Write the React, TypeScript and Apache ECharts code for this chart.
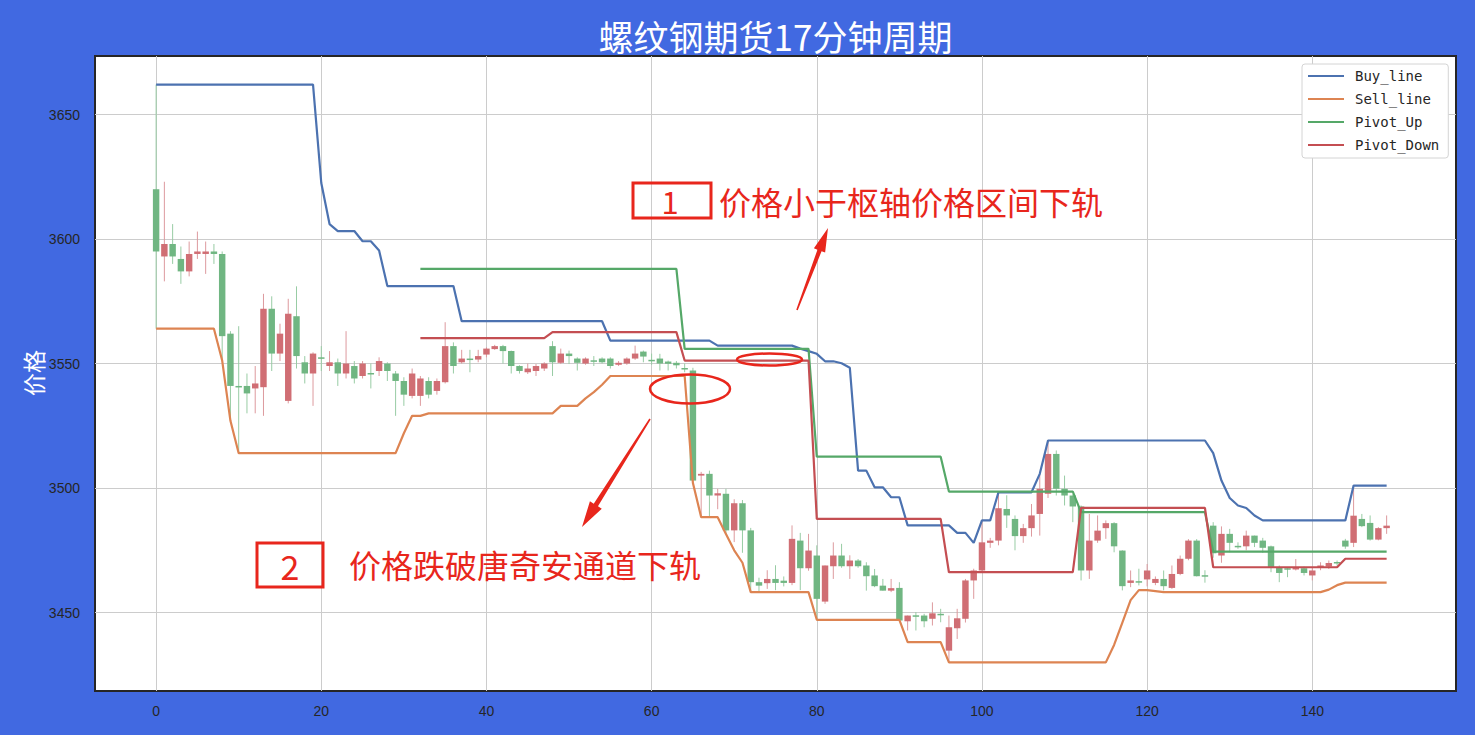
import React, { useEffect, useRef } from 'react';
import * as echarts from 'echarts';

// [open, close, low, high] per bar, index = bar number
const candles: number[][] = [
  // 0-9
  [3620, 3595, 3564, 3662], [3593, 3598, 3583, 3623], [3598, 3593, 3590, 3606], [3592, 3587, 3582, 3597], [3587, 3594, 3585, 3599],
  [3594, 3595, 3592, 3603], [3594, 3595, 3586, 3599], [3595, 3594, 3590, 3598], [3594, 3561, 3551, 3595], [3562, 3541, 3527, 3563],
  // 10-19
  [3541, 3540.5, 3514, 3565], [3541, 3538, 3530, 3546], [3540, 3542, 3530, 3549], [3540.5, 3572, 3529, 3578], [3572, 3554, 3547, 3577],
  [3554, 3562, 3551, 3566], [3535, 3570, 3534, 3576], [3569, 3553, 3548, 3581], [3550.5, 3546, 3542, 3553], [3546, 3554, 3533, 3554.5],
  // 20-29
  [3552.5, 3552, 3547, 3557], [3549, 3550.5, 3547, 3555], [3550.5, 3546, 3541, 3552], [3546, 3550, 3544, 3563], [3549, 3544, 3542, 3551],
  [3545, 3550, 3544, 3551], [3546.2, 3546, 3540, 3550], [3547, 3551, 3545, 3552.5], [3550, 3547, 3543, 3550.5], [3546, 3543, 3529, 3547],
  // 30-39
  [3543, 3537.5, 3533, 3544.5], [3537, 3546, 3536, 3548], [3537, 3544, 3533, 3545], [3543, 3537.5, 3536, 3544.5], [3539, 3543, 3537.5, 3544],
  [3542.5, 3557, 3542, 3566.6], [3557, 3549, 3546, 3558.5], [3550.5, 3552, 3550, 3555.5], [3552, 3551.8, 3546.5, 3555.5], [3551.6, 3553, 3550.5, 3555.5],
  // 40-49
  [3553.6, 3556, 3552.5, 3556.5], [3555.8, 3557, 3555.5, 3557.5], [3557, 3555, 3550, 3557.5], [3555, 3549, 3546, 3555.2], [3549, 3547, 3546, 3549.3],
  [3546.5, 3548, 3545.8, 3550], [3547, 3549, 3545, 3549.8], [3548, 3550, 3547, 3550.5], [3557, 3550.5, 3545, 3559], [3550.3, 3554, 3549.8, 3556],
  // 50-59
  [3554, 3553, 3549.8, 3555.2], [3552, 3550.3, 3547.2, 3552.5], [3550, 3552, 3549.5, 3552.5], [3551.3, 3551.1, 3549, 3553], [3552, 3550.5, 3550, 3552.5],
  [3552, 3549, 3548, 3552.5], [3549.5, 3550.3, 3549, 3551], [3550, 3552, 3549.5, 3552.5], [3552, 3554, 3551.5, 3557.2], [3554.8, 3552.8, 3550.5, 3555.2],
  // 60-69
  [3551.5, 3551.2, 3549.5, 3554], [3552, 3550, 3547.2, 3553.9], [3550.8, 3549.9, 3547.2, 3551.2], [3550.3, 3549.3, 3548, 3551], [3548.2, 3548, 3546.5, 3550],
  [3547.2, 3503, 3503, 3548.3], [3505, 3505.7, 3488.3, 3506.5], [3505.7, 3497, 3488.3, 3507], [3497, 3497.9, 3491.5, 3499.7], [3497.7, 3483, 3481.6, 3499.7],
  // 70-79
  [3483, 3493.9, 3478.3, 3495.5], [3493.9, 3483, 3474, 3495.2], [3483, 3462.2, 3458.2, 3484], [3462.2, 3460.8, 3458.5, 3464], [3461.8, 3463.5, 3459.5, 3467],
  [3463.5, 3461.9, 3459, 3469], [3462.8, 3461.9, 3460.5, 3464.5], [3461.9, 3479.6, 3461, 3485], [3478.9, 3467.8, 3459, 3482], [3467.8, 3474.9, 3466.8, 3481.6],
  // 80-89
  [3472.9, 3455.5, 3447.1, 3477], [3454.4, 3468.9, 3453.5, 3468.9], [3468.6, 3472.9, 3463.5, 3478.2], [3472.9, 3468.6, 3468, 3477.6], [3468.6, 3470.9, 3463.5, 3473],
  [3470.9, 3468.6, 3468, 3471.5], [3468.9, 3464.6, 3458.8, 3470.2], [3464.9, 3460.6, 3460.2, 3467.5], [3460.8, 3458.8, 3458.8, 3463.5], [3458.8, 3459.8, 3458.2, 3463.5],
  // 90-99
  [3459.9, 3446.8, 3446.8, 3462.2], [3446.5, 3448.8, 3442.8, 3448.8], [3448.9, 3448.7, 3442.8, 3450.2], [3448.8, 3446.5, 3444.1, 3449.5], [3447.5, 3449.7, 3444.8, 3454.1],
  [3449.5, 3449.3, 3446.1, 3451.5], [3434.7, 3444.1, 3430, 3448.8], [3443.7, 3447.7, 3439.4, 3451.5], [3447.5, 3462.9, 3446, 3463.5], [3462.9, 3466.9, 3455.5, 3467.6],
  // 100-109
  [3466.9, 3478.2, 3466, 3487], [3478, 3478.9, 3476, 3480], [3478.9, 3491.9, 3477, 3498.3], [3491.6, 3489, 3484, 3497.1], [3487.6, 3480.7, 3475, 3489],
  [3480.7, 3483.9, 3478, 3485.6], [3483.9, 3489, 3480.5, 3493.6], [3489.6, 3499.7, 3480.9, 3505.7], [3497.7, 3513.7, 3496, 3519], [3513.7, 3499.7, 3497, 3515.1],
  // 110-119
  [3499.7, 3497, 3493, 3505], [3497, 3492.6, 3486.3, 3497.5], [3492.6, 3466.9, 3462.9, 3493], [3466.9, 3478.9, 3463.5, 3489.6], [3478.9, 3482.9, 3478, 3489],
  [3483.9, 3485.9, 3479.6, 3487], [3485.9, 3476.6, 3474.2, 3486.3], [3474.9, 3460.6, 3458.9, 3475], [3461.9, 3462.9, 3460.2, 3466.9], [3462.6, 3462.4, 3460.9, 3467.6],
  // 120-129
  [3463.3, 3466.9, 3460.5, 3469.5], [3461.9, 3463.5, 3461, 3464.5], [3463.5, 3460.6, 3458.9, 3466.9], [3459.9, 3465.5, 3459.5, 3468.9], [3465.5, 3471.6, 3465, 3472.9],
  [3471.6, 3478.9, 3471, 3479.5], [3478.9, 3464.6, 3464.5, 3479.5], [3465, 3464.8, 3462, 3467], [3484.9, 3473.8, 3472, 3486.3], [3472.9, 3481.6, 3470, 3484.6],
  // 130-139
  [3481.6, 3478, 3474.2, 3483.6], [3476.8, 3476.5, 3475.6, 3478.2], [3476.6, 3480.9, 3475, 3482.9], [3480.9, 3478, 3476.3, 3480.9], [3478.9, 3476, 3474, 3480],
  [3476.6, 3468.2, 3466.2, 3476.9], [3468.2, 3465.9, 3462.2, 3468.9], [3467.8, 3467.5, 3464.2, 3468.2], [3467.3, 3468.2, 3466.9, 3471.5], [3467.8, 3465.9, 3464.9, 3468.5],
  // 140-149
  [3464.9, 3466.9, 3462.9, 3468.2], [3468.2, 3468.9, 3467, 3470.2], [3468.5, 3469.9, 3467.5, 3470.9], [3470.3, 3470.1, 3468.9, 3470.9], [3478.9, 3476.5, 3475.6, 3479.6],
  [3478, 3488.9, 3476.3, 3501], [3487.6, 3484.7, 3484.3, 3489.6], [3486, 3479.3, 3478.9, 3489], [3479.3, 3483.9, 3479, 3484.3], [3483.9, 3484.9, 3481.6, 3489],
];

const buyLine: number[] = [
  3662, 3662, 3662, 3662, 3662, 3662, 3662, 3662, 3662, 3662,
  3662, 3662, 3662, 3662, 3662, 3662, 3662, 3662, 3662, 3662,
  3622.5, 3606, 3603.2, 3603.2, 3603.2, 3599.1, 3599.1, 3595.4, 3581.1, 3581.1,
  3581.1, 3581.1, 3581.1, 3581.1, 3581.1, 3581.1, 3581.1, 3567, 3567, 3567,
  3567, 3567, 3567, 3567, 3567, 3567, 3567, 3567, 3567, 3567,
  3567, 3567, 3567, 3567, 3567, 3559.2, 3559.2, 3559.2, 3559.2, 3559.2,
  3559.2, 3559.2, 3559.2, 3559.2, 3559.2, 3559.2, 3559.2, 3559.2, 3557.2, 3557.2,
  3557.2, 3557.2, 3557.2, 3557.2, 3557.2, 3557.2, 3557.2, 3557.2, 3556, 3555,
  3553.9, 3550.9, 3550.9, 3550.1, 3548.3, 3507, 3507, 3500.3, 3500.3, 3496.3,
  3496.3, 3485, 3485, 3485, 3485, 3485, 3485, 3482, 3482, 3478,
  3487, 3487, 3498.3, 3498.3, 3498.3, 3498.3, 3498.3, 3505.7, 3519.1, 3519.1,
  3519.1, 3519.1, 3519.1, 3519.1, 3519.1, 3519.1, 3519.1, 3519.1, 3519.1, 3519.1,
  3519.1, 3519.1, 3519.1, 3519.1, 3519.1, 3519.1, 3519.1, 3519.1, 3514, 3503,
  3496, 3493, 3492, 3489, 3487, 3487, 3487, 3487, 3487, 3487,
  3487, 3487, 3487, 3487, 3487, 3501, 3501, 3501, 3501, 3501,
];

const sellLine: number[] = [
  3564, 3564, 3564, 3564, 3564, 3564, 3564, 3564, 3551.2, 3527,
  3514, 3514, 3514, 3514, 3514, 3514, 3514, 3514, 3514, 3514,
  3514, 3514, 3514, 3514, 3514, 3514, 3514, 3514, 3514, 3514,
  3522, 3529, 3529, 3530, 3530, 3530, 3530, 3530, 3530, 3530,
  3530, 3530, 3530, 3530, 3530, 3530, 3530, 3530, 3530, 3533,
  3533, 3533, 3536, 3538.5, 3541.5, 3545, 3545, 3545, 3545, 3545,
  3545, 3545, 3545, 3545, 3545, 3502, 3488.3, 3488.3, 3488.3, 3481.5,
  3475, 3470, 3458.2, 3458.2, 3458.2, 3458.2, 3458.2, 3458.2, 3458.2, 3458.2,
  3447.1, 3447.1, 3447.1, 3447.1, 3447.1, 3447.1, 3447.1, 3447.1, 3447.1, 3447.1,
  3447.1, 3438.1, 3438.1, 3438.1, 3438.1, 3438.1, 3430, 3430, 3430, 3430,
  3430, 3430, 3430, 3430, 3430, 3430, 3430, 3430, 3430, 3430,
  3430, 3430, 3430, 3430, 3430, 3430, 3437, 3446, 3455, 3459,
  3459, 3458.6, 3458.2, 3458.2, 3458.2, 3458.2, 3458.2, 3458.2, 3458.2, 3458.2,
  3458.2, 3458.2, 3458.2, 3458.2, 3458.2, 3458.2, 3458.2, 3458.2, 3458.2, 3458.2,
  3458.2, 3458.2, 3459.2, 3461, 3462, 3462, 3462, 3462, 3462, 3462,
];

const pivotUp: (number | null)[] = [
  null, null, null, null, null, null, null, null, null, null, null, null, null, null, null, null,
  null, null, null, null, null, null, null, null, null, null, null, null, null, null, null, null,
  3588, 3588, 3588, 3588, 3588, 3588, 3588, 3588, 3588, 3588, 3588, 3588, 3588, 3588, 3588, 3588,
  3588, 3588, 3588, 3588, 3588, 3588, 3588, 3588, 3588, 3588, 3588, 3588, 3588, 3588, 3588, 3588,
  3555.9, 3555.9, 3555.9, 3555.9, 3555.9, 3555.9, 3555.9, 3555.9, 3555.9, 3555.9, 3555.9, 3555.9, 3555.9, 3555.9, 3555.9, 3555.9,
  3512.6, 3512.6, 3512.6, 3512.6, 3512.6, 3512.6, 3512.6, 3512.6, 3512.6, 3512.6, 3512.6, 3512.6, 3512.6, 3512.6, 3512.6, 3512.6,
  3498.6, 3498.6, 3498.6, 3498.6, 3498.6, 3498.6, 3498.6, 3498.6, 3498.6, 3498.6, 3498.6, 3498.6, 3498.6, 3498.6, 3498.6, 3498.6,
  3490.3, 3490.3, 3490.3, 3490.3, 3490.3, 3490.3, 3490.3, 3490.3, 3490.3, 3490.3, 3490.3, 3490.3, 3490.3, 3490.3, 3490.3, 3490.3,
  3474.5, 3474.5, 3474.5, 3474.5, 3474.5, 3474.5, 3474.5, 3474.5, 3474.5, 3474.5, 3474.5, 3474.5, 3474.5, 3474.5, 3474.5, 3474.5,
  3474.5, 3474.5, 3474.5, 3474.5, 3474.5, 3474.5,
];

const pivotDown: (number | null)[] = [
  null, null, null, null, null, null, null, null, null, null, null, null, null, null, null, null,
  null, null, null, null, null, null, null, null, null, null, null, null, null, null, null, null,
  3560.2, 3560.2, 3560.2, 3560.2, 3560.2, 3560.2, 3560.2, 3560.2, 3560.2, 3560.2, 3560.2, 3560.2, 3560.2, 3560.2, 3560.2, 3560.2,
  3562.6, 3562.6, 3562.6, 3562.6, 3562.6, 3562.6, 3562.6, 3562.6, 3562.6, 3562.6, 3562.6, 3562.6, 3562.6, 3562.6, 3562.6, 3562.6,
  3551.2, 3551.2, 3551.2, 3551.2, 3551.2, 3551.2, 3551.2, 3551.2, 3551.2, 3551.2, 3551.2, 3551.2, 3551.2, 3551.2, 3551.2, 3551.2,
  3487.6, 3487.6, 3487.6, 3487.6, 3487.6, 3487.6, 3487.6, 3487.6, 3487.6, 3487.6, 3487.6, 3487.6, 3487.6, 3487.6, 3487.6, 3487.6,
  3466.2, 3466.2, 3466.2, 3466.2, 3466.2, 3466.2, 3466.2, 3466.2, 3466.2, 3466.2, 3466.2, 3466.2, 3466.2, 3466.2, 3466.2, 3466.2,
  3492, 3492, 3492, 3492, 3492, 3492, 3492, 3492, 3492, 3492, 3492, 3492, 3492, 3492, 3492, 3492,
  3468.2, 3468.2, 3468.2, 3468.2, 3468.2, 3468.2, 3468.2, 3468.2, 3468.2, 3468.2, 3468.2, 3468.2, 3468.2, 3468.2, 3468.2, 3468.2,
  3471.6, 3471.6, 3471.6, 3471.6, 3471.6, 3471.6,
];

const seriesNames = ['Buy_line', 'Sell_line', 'Pivot_Up', 'Pivot_Down'];
const seriesColors = ['#4c72b0', '#dd8452', '#55a868', '#c44e52'];
const xTicks = [0, 20, 40, 60, 80, 100, 120, 140];
const yTicks = [3450, 3500, 3550, 3600, 3650];

const TITLE = '螺纹钢期货17分钟周期';
const YLABEL = '价格';
const NOTE1 = '价格小于枢轴价格区间下轨';
const NOTE2 = '价格跌破唐奇安通道下轨';

const RED = '#e8261c';
const UP = '#d06e74';
const DOWN = '#70b682';
const UP_WICK = '#dd9a9e';
const DOWN_WICK = '#98cca4';
const CJK = '"Noto Sans CJK SC", "Noto Sans", sans-serif';
const TICK_FONT = '"Liberation Sans", Arial, sans-serif';

function arrowPoints(tx: number, ty: number, hx: number, hy: number, headLen: number, headHalf: number, neckHalf: number, tailHalf: number) {
  const dx = hx - tx, dy = hy - ty;
  const L = Math.hypot(dx, dy);
  const ux = dx / L, uy = dy / L;
  const nx = -uy, ny = ux;
  const bx = hx - ux * headLen, by = hy - uy * headLen;
  return [
    [tx + nx * tailHalf, ty + ny * tailHalf],
    [bx + nx * neckHalf, by + ny * neckHalf],
    [bx + nx * headHalf, by + ny * headHalf],
    [hx, hy],
    [bx - nx * headHalf, by - ny * headHalf],
    [bx - nx * neckHalf, by - ny * neckHalf],
    [tx - nx * tailHalf, ty - ny * tailHalf],
  ];
}

export default function App() {
  const ref = useRef<HTMLDivElement>(null);

  useEffect(() => {
    if (!ref.current) return;
    const chart = echarts.init(ref.current, null, { renderer: 'svg' });

    const candleData = candles.map((c, i) => [i, c[0], c[1], c[2], c[3]]);
    const lineSets = [buyLine, sellLine, pivotUp, pivotDown];

    const lineSeries = lineSets.map((arr, k) => ({
      name: seriesNames[k],
      type: 'line',
      data: arr.map((v, i) => [i, v]),
      showSymbol: false,
      symbol: 'none',
      connectNulls: false,
      color: seriesColors[k],
      itemStyle: { color: seriesColors[k] },
      lineStyle: { color: seriesColors[k], width: 2.2 },
      z: 3,
      silent: true,
    }));

    const option: any = {
      animation: false,
      backgroundColor: '#4169e1',
      grid: {
        left: 95, right: 19, top: 56, bottom: 44,
        show: true, backgroundColor: '#ffffff', borderColor: '#262626', borderWidth: 2,
        containLabel: false,
      },
      legend: {
        data: seriesNames,
        orient: 'vertical',
        left: 1302,
        top: 64,
        icon: 'rect',
        itemWidth: 36,
        itemHeight: 2,
        itemGap: 9,
        selectedMode: false,
        padding: [5, 9, 6, 6],
        backgroundColor: '#ffffff',
        borderColor: '#d4d4d4',
        borderWidth: 1,
        borderRadius: 3,
        textStyle: { fontFamily: '"DejaVu Sans Mono", monospace', fontSize: 14, color: '#262626', padding: [0, 0, 0, 6] },
      },
      xAxis: {
        type: 'value',
        min: -7.4,
        max: 157.4,
        axisLine: { show: false },
        axisTick: { show: false, customValues: xTicks },
        axisLabel: { customValues: xTicks, margin: 13, color: '#262626', fontSize: 14, fontFamily: TICK_FONT, formatter: (v: number) => String(v) },
        splitLine: { show: true, lineStyle: { color: '#cccccc', width: 1 } },
      },
      yAxis: {
        type: 'value',
        min: 3418.5,
        max: 3673.5,
        axisLine: { show: false },
        axisTick: { show: false, customValues: yTicks },
        axisLabel: { customValues: yTicks, margin: 15, color: '#262626', fontSize: 14, fontFamily: TICK_FONT, formatter: (v: number) => String(v) },
        splitLine: { show: true, lineStyle: { color: '#cccccc', width: 1 } },
      },
      series: [
        {
          name: 'kline',
          type: 'custom',
          z: 2,
          silent: true,
          data: candleData,
          encode: { x: 0, y: [1, 2, 3, 4] },
          renderItem: (params: any, api: any) => {
            const x = api.value(0);
            const o = api.value(1), c = api.value(2), l = api.value(3), h = api.value(4);
            const pO = api.coord([x, o]);
            const pC = api.coord([x, c]);
            const pL = api.coord([x, l]);
            const pH = api.coord([x, h]);
            const w = api.size([0.78, 0])[0];
            const up = c > o;
            const top = Math.min(pO[1], pC[1]);
            let hgt = Math.abs(pO[1] - pC[1]);
            if (hgt < 1.5) hgt = 1.5;
            return {
              type: 'group',
              children: [
                { type: 'line', shape: { x1: pH[0], y1: pH[1], x2: pL[0], y2: pL[1] }, style: { stroke: up ? UP_WICK : DOWN_WICK, lineWidth: 1 } },
                { type: 'rect', shape: { x: pO[0] - w / 2, y: top, width: w, height: hgt }, style: { fill: up ? UP : DOWN } },
              ],
            };
          },
        },
        ...lineSeries,
      ],
      graphic: [
        { type: 'text', x: 775.5, y: 35, z: 100, style: { text: TITLE, fill: '#ffffff', fontSize: 35, fontFamily: CJK, align: 'center', verticalAlign: 'middle', textAlign: 'center', textVerticalAlign: 'middle' } },
        { type: 'text', x: 33, y: 373, rotation: Math.PI / 2, z: 100, style: { text: YLABEL, fill: '#ffffff', fontSize: 23, fontFamily: CJK, align: 'center', verticalAlign: 'middle', textAlign: 'center', textVerticalAlign: 'middle' } },
        // annotation 1
        { type: 'rect', z: 100, shape: { x: 633, y: 183, width: 78, height: 35 }, style: { fill: 'none', stroke: RED, lineWidth: 3 } },
        { type: 'text', x: 670, y: 200, z: 100, style: { text: '1', fill: RED, fontSize: 31, fontFamily: CJK, align: 'center', verticalAlign: 'middle', textAlign: 'center', textVerticalAlign: 'middle' } },
        { type: 'text', x: 719, y: 201, z: 100, style: { text: NOTE1, fill: RED, fontSize: 32, fontFamily: CJK, align: 'left', verticalAlign: 'middle', textAlign: 'left', textVerticalAlign: 'middle' } },
        { type: 'polygon', z: 100, shape: { points: arrowPoints(797, 310, 828, 228, 24, 6, 2.2, 0.8) }, style: { fill: RED } },
        { type: 'ellipse', z: 100, shape: { cx: 690, cy: 389, rx: 40, ry: 14.5 }, style: { fill: 'none', stroke: RED, lineWidth: 2.5 } },
        { type: 'ellipse', z: 100, shape: { cx: 769.5, cy: 359.5, rx: 32.5, ry: 6 }, style: { fill: 'none', stroke: RED, lineWidth: 2.5 } },
        // annotation 2
        { type: 'polygon', z: 100, shape: { points: arrowPoints(650, 419, 582, 527, 26, 7, 2.5, 0.8) }, style: { fill: RED } },
        { type: 'rect', z: 100, shape: { x: 257, y: 543, width: 66, height: 44 }, style: { fill: 'none', stroke: RED, lineWidth: 3 } },
        { type: 'text', x: 290, y: 565, z: 100, style: { text: '2', fill: RED, fontSize: 34, fontFamily: CJK, align: 'center', verticalAlign: 'middle', textAlign: 'center', textVerticalAlign: 'middle' } },
        { type: 'text', x: 349, y: 564, z: 100, style: { text: NOTE2, fill: RED, fontSize: 32, fontFamily: CJK, align: 'left', verticalAlign: 'middle', textAlign: 'left', textVerticalAlign: 'middle' } },
      ],
    };

    chart.setOption(option);
    return () => chart.dispose();
  }, []);

  return <div ref={ref} style={{ position: 'absolute', left: 0, top: 0, width: 1475, height: 735 }} />;
}
